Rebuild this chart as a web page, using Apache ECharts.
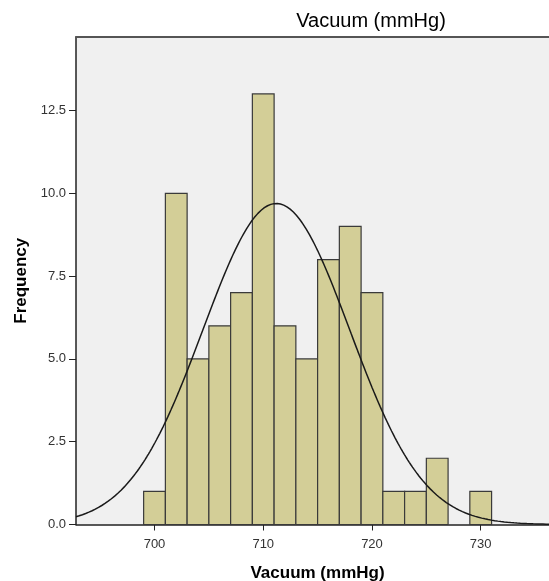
<!DOCTYPE html>
<html>
<head>
<meta charset="utf-8">
<script src="https://cdn.jsdelivr.net/npm/echarts@6/dist/echarts.min.js"></script>
<style>
  html, body { margin: 0; padding: 0; background: #ffffff; }
  #chart { width: 549px; height: 581px; }
</style>
</head>
<body>
<div id="chart"></div>
<script>
// Histogram bins (lower edges) and frequencies
const binStarts = [699, 701, 703, 705, 707, 709, 711, 713, 715, 717, 719, 721, 723, 725, 727, 729];
const counts    = [1, 10, 5, 6, 7, 13, 6, 5, 8, 9, 7, 1, 1, 2, 0, 1];
const binWidth = 2;
// Fitted normal curve parameters (as shown in the chart)
const normalMean = 711.2;
const normalSD = 6.75;
// Axis tick labels
const xTicks = [700, 710, 720, 730];
const yTicks = [0, 2.5, 5, 7.5, 10, 12.5];

const xMin = 692.78, xMax = 737.2, yMax = 14.72;

const N = counts.reduce((a, b) => a + b, 0);
const curve = [];
for (let i = 0; i <= 300; i++) {
  const x = xMin + (xMax - xMin) * i / 300;
  const z = (x - normalMean) / normalSD;
  curve.push([x, N * binWidth * Math.exp(-0.5 * z * z) / (normalSD * Math.sqrt(2 * Math.PI))]);
}
const barData = binStarts.map((s, i) => [s, s + binWidth, counts[i]]).filter(d => d[2] > 0);

const chart = echarts.init(document.getElementById('chart'), null, { renderer: 'canvas' });
const font = 'Arial, "Liberation Sans", sans-serif';
chart.setOption({
  animation: false,
  backgroundColor: '#ffffff',
  title: {
    text: 'Vacuum (mmHg)',
    left: 366, top: 6, textAlign: 'center',
    textStyle: { fontFamily: font, fontSize: 20, fontWeight: 'normal', color: '#000' }
  },
  grid: {
    left: 76, right: -10, top: 37, bottom: 56.5,
    containLabel: false, outerBoundsMode: 'none',
    show: true, backgroundColor: '#f0f0f0', borderWidth: 0
  },
  xAxis: [{
    type: 'value', min: xMin, max: xMax,
    name: 'Vacuum (mmHg)', nameLocation: 'middle', nameGap: 40,
    nameTextStyle: { fontFamily: font, fontSize: 17, fontWeight: 'bold', color: '#000' },
    axisLine: { show: true, lineStyle: { color: '#222', width: 1.5 } },
    axisTick: { show: true, length: 6, inside: false, customValues: xTicks, lineStyle: { color: '#222' } },
    axisLabel: { customValues: xTicks, margin: 13, fontFamily: font, fontSize: 13, color: '#333' },
    splitLine: { show: false }
  }, {
    type: 'value', position: 'top', min: xMin, max: xMax,
    axisLine: { show: true, lineStyle: { color: '#555', width: 2 } },
    axisTick: { show: false }, axisLabel: { show: false }, splitLine: { show: false }
  }],
  yAxis: {
    type: 'value', min: 0, max: yMax,
    name: 'Frequency', nameLocation: 'middle', nameGap: 46, nameRotate: 90,
    nameTextStyle: { fontFamily: font, fontSize: 17, fontWeight: 'bold', color: '#000' },
    axisLine: { show: true, lineStyle: { color: '#222', width: 1.5 } },
    axisTick: { show: true, length: 7, customValues: yTicks, lineStyle: { color: '#222' } },
    axisLabel: { customValues: yTicks, margin: 10, fontFamily: font, fontSize: 13, color: '#333',
      formatter: v => v.toFixed(1) },
    splitLine: { show: false }
  },
  series: [{
    type: 'custom',
    data: barData,
    renderItem: function (params, api) {
      const p0 = api.coord([api.value(0), api.value(2)]);
      const p1 = api.coord([api.value(1), 0]);
      return {
        type: 'rect',
        shape: { x: p0[0], y: p0[1], width: p1[0] - p0[0], height: p1[1] - p0[1] },
        style: { fill: '#d3ce97', stroke: '#3a3a3a', lineWidth: 1.2 }
      };
    },
    encode: { x: [0, 1], y: 2 },
    z: 2
  }, {
    type: 'line',
    data: curve,
    showSymbol: false,
    smooth: false,
    lineStyle: { color: '#1a1a1a', width: 1.5 },
    z: 3
  }]
});
</script>
</body>
</html>
